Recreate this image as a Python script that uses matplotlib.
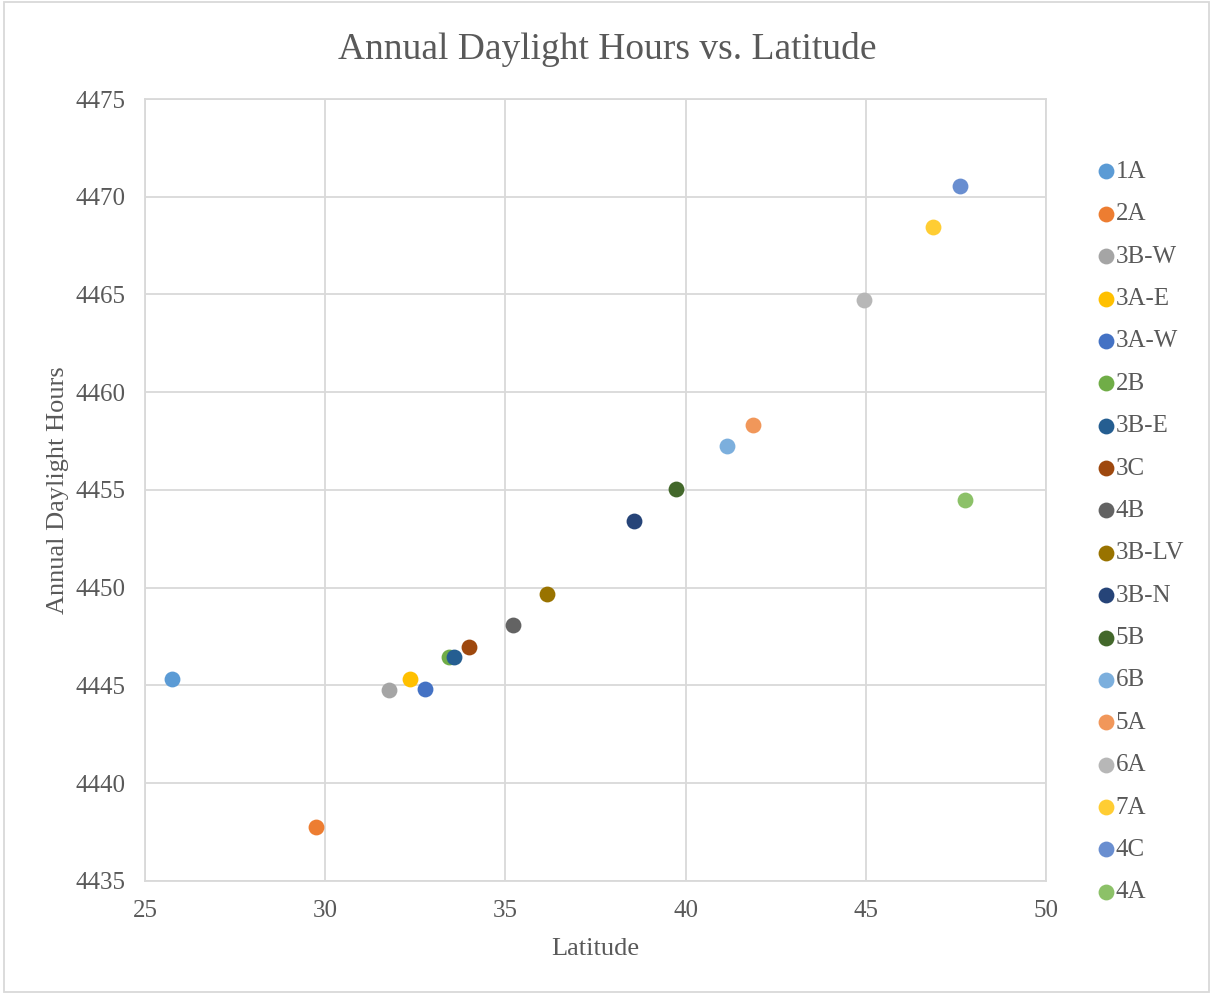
import matplotlib.pyplot as plt
from matplotlib.patches import Rectangle

# Climate zones with latitude and annual daylight hours
zones = ["1A", "2A", "3B-W", "3A-E", "3A-W", "2B", "3B-E", "3C", "4B",
         "3B-LV", "3B-N", "5B", "6B", "5A", "6A", "7A", "4C", "4A"]
latitude = [25.75, 29.74, 31.77, 32.35, 32.77, 33.44, 33.57, 33.99, 35.21,
            36.15, 38.57, 39.73, 41.15, 41.87, 44.95, 46.86, 47.61, 47.75]
daylight = [4445.33, 4437.76, 4444.77, 4445.33, 4444.80, 4446.46, 4446.46, 4446.97, 4448.09,
            4449.68, 4453.41, 4455.05, 4457.25, 4458.32, 4464.72, 4468.45, 4470.55, 4454.49]
colors = ["#5B9BD5", "#ED7D31", "#A5A5A5", "#FFC000", "#4472C4", "#70AD47",
          "#255E91", "#9E480E", "#636363", "#997300", "#264478", "#43682B",
          "#7CAFDD", "#F1975A", "#B7B7B7", "#FFCD33", "#698ED0", "#8CC168"]

plt.rcParams["font.family"] = ["Liberation Serif", "DejaVu Serif"]
text_color = "#595959"
grid_color = "#D9D9D9"

fig = plt.figure(figsize=(12.11, 9.93), dpi=100)
ax = fig.add_axes([0.1197, 0.1128, 0.7441, 0.7875])

for name, x, y, c in zip(zones, latitude, daylight, colors):
    ax.scatter(x, y, s=130, color=c, label=name, zorder=3, linewidths=0)

ax.set_xlim(25, 50)
ax.set_ylim(4435, 4475)
ax.set_xticks(range(25, 51, 5))
ax.set_yticks(range(4435, 4476, 5))
ax.grid(True, color=grid_color, linewidth=1.3, zorder=0)
for sp in ax.spines.values():
    sp.set_color(grid_color)
    sp.set_linewidth(1.3)
ax.tick_params(length=0, labelsize=18, labelcolor=text_color, pad=14)

ax.set_title("Annual Daylight Hours vs. Latitude", fontsize=27, color=text_color,
             pad=29, x=0.513)
ax.set_xlabel("Latitude", fontsize=19, color=text_color, labelpad=11)
ax.set_ylabel("Annual Daylight Hours", fontsize=19, color=text_color, labelpad=5)

leg = fig.legend(loc="upper left", bbox_to_anchor=(0.8915, 0.851), frameon=False,
                 fontsize=18, labelcolor=text_color, handletextpad=-0.15,
                 labelspacing=0.795, borderpad=0, handlelength=1.1)

# light border round the whole chart
fig.patches.append(Rectangle((0.003, 0.001), 0.995, 0.997, transform=fig.transFigure,
                             fill=False, edgecolor=grid_color, linewidth=1.3))

fig.savefig("out.png", dpi=100)
